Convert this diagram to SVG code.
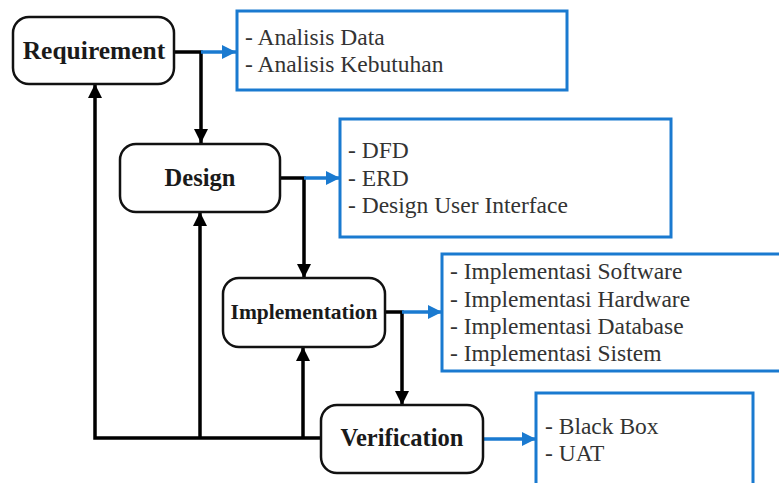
<svg xmlns="http://www.w3.org/2000/svg" width="779" height="483" viewBox="0 0 779 483">
<defs>
<style>
.node rect{fill:#fff;stroke:#111;stroke-width:2.5}
.node text{font-family:"Liberation Serif","DejaVu Serif",serif;font-weight:bold;font-size:24.5px;fill:#1a1a1a;text-anchor:middle}
.box rect{fill:#fff;stroke:#1a7ad0;stroke-width:3}
.box text{font-family:"Liberation Serif","DejaVu Serif",serif;font-size:23.5px;fill:#333}
.blk{fill:none;stroke:#000;stroke-width:3.5}
.blu{fill:none;stroke:#1a7ad0;stroke-width:3.5}
</style>
<marker id="ab" markerUnits="userSpaceOnUse" markerWidth="16" markerHeight="14" refX="14" refY="7" orient="auto"><path d="M0,0 L14,7 L0,14 Z" fill="#000"/></marker>
<marker id="au" markerUnits="userSpaceOnUse" markerWidth="16" markerHeight="14" refX="14" refY="7" orient="auto"><path d="M0,0 L14,7 L0,14 Z" fill="#1a7ad0"/></marker>
</defs>
<rect width="779" height="483" fill="#fff"/>
<g id="connectors">
<path class="blk" d="M174 52 H201 V143" marker-end="url(#ab)"/>
<path class="blu" d="M201 52 H236" marker-end="url(#au)"/>
<path class="blk" d="M280 178 H304 V278" marker-end="url(#ab)"/>
<path class="blu" d="M304 178 H340" marker-end="url(#au)"/>
<path class="blk" d="M385 312 H402 V405" marker-end="url(#ab)"/>
<path class="blu" d="M402 312 H442" marker-end="url(#au)"/>
<path class="blu" d="M483 439 H536" marker-end="url(#au)"/>
<path class="blk" d="M321 438 H95 V84" marker-end="url(#ab)"/>
<path class="blk" d="M200 438 V212" marker-end="url(#ab)"/>
<path class="blk" d="M303 438 V347" marker-end="url(#ab)"/>
</g>
<g id="requirement" class="node"><rect x="13" y="17" width="161" height="67" rx="16"/><text x="94" y="59" style="font-size:25.5px">Requirement</text></g>
<g id="design" class="node"><rect x="120" y="144" width="160" height="68" rx="16"/><text x="200" y="186">Design</text></g>
<g id="implementation" class="node"><rect x="223" y="278" width="162" height="69" rx="16"/><text x="304" y="319" style="font-size:21.5px">Implementation</text></g>
<g id="verification" class="node"><rect x="321" y="405" width="162" height="68" rx="16"/><text x="402" y="446">Verification</text></g>
<g id="box-requirement" class="box"><rect x="237" y="11" width="330" height="79"/><text x="245" y="45">- Analisis Data</text><text x="245" y="72">- Analisis Kebutuhan</text></g>
<g id="box-design" class="box"><rect x="340" y="119" width="331" height="118"/><text x="348" y="158">- DFD</text><text x="348" y="186">- ERD</text><text x="348" y="213">- Design User Interface</text></g>
<g id="box-implementation" class="box"><rect x="442" y="254" width="345" height="117"/><text x="450" y="279">- Implementasi Software</text><text x="450" y="307">- Implementasi Hardware</text><text x="450" y="334">- Implementasi Database</text><text x="450" y="361">- Implementasi Sistem</text></g>
<g id="box-verification" class="box"><rect x="536" y="393" width="217" height="100"/><text x="545" y="434">- Black Box</text><text x="545" y="461">- UAT</text></g>
</svg>
